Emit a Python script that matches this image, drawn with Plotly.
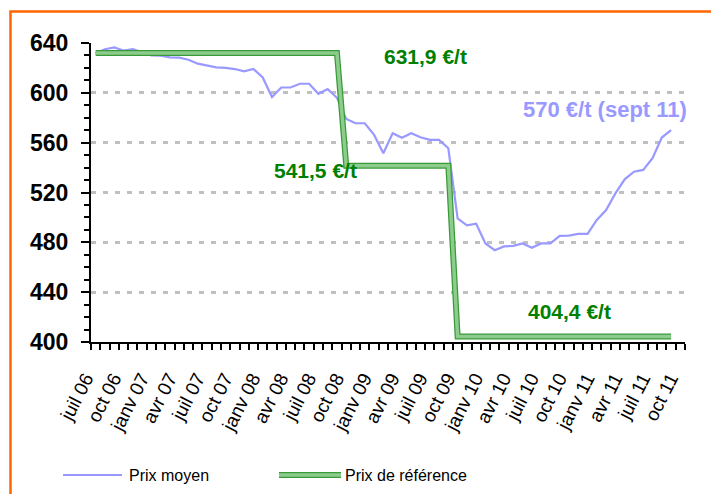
import plotly.graph_objects as go

# ---- data ----
month_names = ["janv", "févr", "mars", "avr", "mai", "juin",
               "juil", "août", "sept", "oct", "nov", "déc"]
years = [6, 7, 8, 9, 10, 11]
months = [f"{m} {y:02d}" for y in years for m in month_names][6:6 + 64]  # juil 06 .. oct 11

prix_moyen = [632, 635, 636.5, 634, 635, 632.5, 630, 629.8, 628.4, 628.2,
              626.6, 623.4, 621.7, 620.4, 620.1, 619.1, 617.3, 619.1, 612.3, 596.6,
              604.3, 604.3, 607.3, 607.3, 599.2, 603, 596, 579, 575.6, 575.6,
              566.2, 551.5, 567.6, 564, 567.6, 564.4, 562.2, 562.2, 555.5, 499.2,
              493.6, 494.9, 479.1, 473.7, 476.7, 477.2, 479.1, 475.6, 479.1, 479.1,
              485.2, 485.4, 486.8, 486.8, 498, 505.9, 519.3, 530.6, 536.7, 538.1,
              547.5, 564.1, 570]
prix_reference = [631.9] * 27 + [541.5] * 12 + [404.4] * 24

x_moyen = list(range(len(prix_moyen)))
x_ref = list(range(len(prix_reference)))
tick_idx = list(range(0, len(months), 3))
tick_text = [months[i] for i in tick_idx]

BLUE = "#9999ff"
GREEN_D = "#3a9a3a"
GREEN_L = "#8ccc8c"
FONT = "Liberation Sans, Arial, sans-serif"

fig = go.Figure()
fig.add_trace(go.Scatter(x=x_moyen, y=prix_moyen, mode="lines", name="Prix moyen",
                         line=dict(color=BLUE, width=2.2), showlegend=False))
fig.add_trace(go.Scatter(x=x_ref, y=prix_reference, mode="lines", name="Prix de référence",
                         line=dict(color=GREEN_D, width=6), showlegend=False))
fig.add_trace(go.Scatter(x=x_ref, y=prix_reference, mode="lines", name="Prix de référence",
                         line=dict(color=GREEN_L, width=3.5), showlegend=False,
                         hoverinfo="skip"))

# page is offset by the 8px body margin; figure sized to fit inside the viewport
OFF = 8
W, H = 711, 486
L, T = 91 - OFF, 43 - OFF
R = W - (685 - OFF)
B = H - (342 - OFF)
PW, PH = W - L - R, H - T - B


def px(xpage):
    return (xpage - OFF - L) / PW


def py(ypage):
    return (H - B - (ypage - OFF)) / PH


shapes = [
    # orange frame (right/bottom edges lie outside the picture)
    dict(type="rect", xref="paper", yref="paper", x0=px(10.5), x1=px(740),
         y0=py(515), y1=py(11.5), line=dict(color="#ff6600", width=2.5), layer="below"),
    # legend samples
    dict(type="line", xref="paper", yref="paper", x0=px(63), x1=px(122), y0=py(475), y1=py(475),
         line=dict(color=BLUE, width=2.2)),
    dict(type="line", xref="paper", yref="paper", x0=px(279), x1=px(341), y0=py(475), y1=py(475),
         line=dict(color=GREEN_D, width=6)),
    dict(type="line", xref="paper", yref="paper", x0=px(279), x1=px(341), y0=py(475), y1=py(475),
         line=dict(color=GREEN_L, width=3.5)),
]

annotations = [
    dict(x=35.5, y=629, xref="x", yref="y", text="<b>631,9 €/t</b>", showarrow=False,
         font=dict(color="#008000", size=21, family=FONT)),
    dict(x=23.7, y=538, xref="x", yref="y", text="<b>541,5 €/t</b>", showarrow=False,
         font=dict(color="#008000", size=21, family=FONT)),
    dict(x=51.1, y=424.6, xref="x", yref="y", text="<b>404,4 €/t</b>", showarrow=False,
         font=dict(color="#008000", size=21, family=FONT)),
    dict(x=54.9, y=586.3, xref="x", yref="y", text="<b>570 €/t (sept 11)</b>", showarrow=False,
         font=dict(color=BLUE, size=22, family=FONT)),
    dict(x=px(127), y=py(475), xref="paper", yref="paper", text="Prix moyen", showarrow=False,
         xanchor="left", yanchor="middle", font=dict(color="black", size=16, family=FONT)),
    dict(x=px(343), y=py(475), xref="paper", yref="paper", text="Prix de référence",
         showarrow=False, xanchor="left", yanchor="middle",
         font=dict(color="black", size=16, family=FONT)),
]

fig.update_layout(
    width=W, height=H,
    margin=dict(l=L, r=R, t=T, b=B, pad=0),
    paper_bgcolor="white", plot_bgcolor="white",
    showlegend=False,
    shapes=shapes, annotations=annotations,
    font=dict(family=FONT, color="black"),
    xaxis=dict(
        range=[-0.5, len(months) - 0.5],
        tickmode="array", tickvals=tick_idx, ticktext=tick_text,
        ticks="", tickangle=-63, ticklabelstandoff=16, ticklabelshift=-10,
        tickfont=dict(size=19, family=FONT, color="black"),
        showline=True, linecolor="black", linewidth=2,
        showgrid=False, zeroline=False,
        minor=dict(tickmode="linear", tick0=-0.5, dtick=1, ticks="outside",
                   ticklen=6, tickcolor="black", tickwidth=1.5, showgrid=False),
    ),
    yaxis=dict(
        range=[400, 640], tickmode="linear", tick0=400, dtick=40,
        ticks="outside", ticklen=8, tickwidth=2, tickcolor="black",
        ticklabelstandoff=8,
        tickfont=dict(size=23, family=FONT, color="black", weight="bold"),
        showline=True, linecolor="black", linewidth=2,
        showgrid=True, gridcolor="#c0c0c0", gridwidth=3, griddash="5px,7px",
        zeroline=False,
        minor=dict(dtick=10, ticks="outside", ticklen=5, tickwidth=2,
                   tickcolor="black", showgrid=False),
    ),
)

fig.write_html("out.html")
